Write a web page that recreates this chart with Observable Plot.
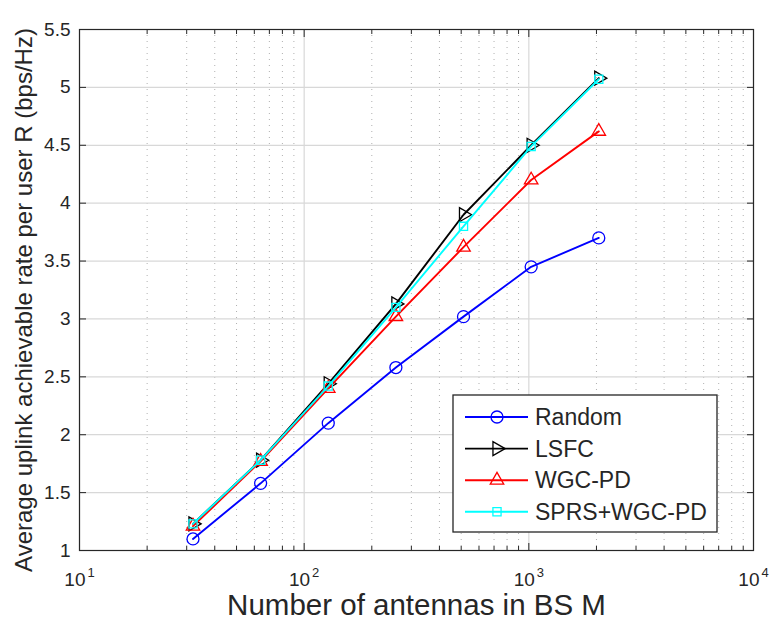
<!DOCTYPE html>
<html>
<head>
<meta charset="utf-8">
<script src="https://cdn.jsdelivr.net/npm/d3@7"></script>
<script src="https://cdn.jsdelivr.net/npm/@observablehq/plot@0.6"></script>
<style>
  html, body { margin: 0; padding: 0; background: #fff; }
  #chart { width: 771px; height: 631px; }
</style>
</head>
<body>
<div id="chart"></div>
<script>
// ---- data ----
const M = [32, 64, 128, 256, 512, 1024, 2048];
const seriesNames = ["Random", "LSFC", "WGC-PD", "SPRS+WGC-PD"];
const randomRate = [1.10, 1.58, 2.10, 2.58, 3.02, 3.45, 3.70];
const lsfcRate   = [1.23, 1.78, 2.44, 3.13, 3.90, 4.50, 5.08];
const wgcpdRate  = [1.21, 1.77, 2.40, 3.02, 3.62, 4.20, 4.62];
const sprsRate   = [1.23, 1.78, 2.42, 3.10, 3.80, 4.49, 5.07];
const seriesColors = ["#0000ff", "#000000", "#ff0000", "#00ffff"];
const xMajorTicks = [10, 100, 1000, 10000];
const xTickBase = "10";
const xTickExponents = ["1", "2", "3", "4"];
const xMinorTicks = [20,30,40,50,60,70,80,90,200,300,400,500,600,700,800,900,2000,3000,4000,5000,6000,7000,8000,9000];
const yTicks = [1, 1.5, 2, 2.5, 3, 3.5, 4, 4.5, 5, 5.5];
const xLabel = "Number of antennas in BS M";
const yLabel = "Average uplink achievable rate per user R (bps/Hz)";

const seriesValues = [randomRate, lsfcRate, wgcpdRate, sprsRate];

// right-pointing triangle symbol
const triangleRight = {
  draw(context, size) {
    const y = -Math.sqrt(size / (Math.sqrt(3) * 3));
    context.moveTo(-2 * y, 0);
    context.lineTo(y, -Math.sqrt(3) * y);
    context.lineTo(y, Math.sqrt(3) * y);
    context.closePath();
  }
};
const seriesSymbols = ["circle", triangleRight, "triangle", "square"];
const seriesR = [6, 5.2, 5, 4.6];

const tables = seriesNames.map((name, i) =>
  M.map((m, j) => ({M: m, rate: seriesValues[i][j], series: name}))
);

const font = "'Liberation Sans', Arial, Helvetica, sans-serif";
const axisColor = "#262626";

const marks = [
  // grid
  Plot.ruleX(xMinorTicks, {stroke: "#b0b0b0", strokeDasharray: "1,5"}),
  Plot.ruleX(xMajorTicks, {stroke: "#d8d8d8", strokeWidth: 1.2}),
  Plot.ruleY(yTicks, {stroke: "#d8d8d8", strokeWidth: 1.2}),
];

// series lines & markers
tables.forEach((t, i) => {
  marks.push(Plot.line(t, {x: "M", y: "rate", stroke: seriesColors[i], strokeWidth: 1.9}));
  marks.push(Plot.dot(t, {x: "M", y: "rate", stroke: seriesColors[i], fill: "none", symbol: seriesSymbols[i], r: seriesR[i], strokeWidth: 1.3}));
});

marks.push(
  // inward ticks (MATLAB style, box on)
  Plot.axisX(xMajorTicks, {anchor: "bottom", tickSize: 7, dy: -7, fill: "none", stroke: axisColor, label: null}),
  Plot.axisX(xMinorTicks, {anchor: "bottom", tickSize: 4, dy: -4, fill: "none", stroke: axisColor, label: null}),
  Plot.axisX(xMajorTicks, {anchor: "top", tickSize: 7, dy: 7, fill: "none", stroke: axisColor, label: null}),
  Plot.axisX(xMinorTicks, {anchor: "top", tickSize: 4, dy: 4, fill: "none", stroke: axisColor, label: null}),
  Plot.axisY(yTicks, {anchor: "left", tickSize: 7, dx: 7, fill: "none", stroke: axisColor, label: null}),
  Plot.axisY(yTicks, {anchor: "right", tickSize: 7, dx: -7, fill: "none", stroke: axisColor, label: null}),
  // tick labels
  Plot.axisX(xMajorTicks, {anchor: "bottom", tickSize: 0, tickPadding: 22, fontSize: 19, fill: axisColor,
    tickFormat: d => xTickBase + "^" + xTickExponents[xMajorTicks.indexOf(d)], label: null}),
  Plot.axisY(yTicks, {anchor: "left", tickSize: 0, tickPadding: 9, fontSize: 19, fill: axisColor,
    tickFormat: d => String(d), label: null}),
  Plot.frame({stroke: axisColor, strokeWidth: 1.2}),
  // axis titles
  Plot.text([xLabel], {frameAnchor: "bottom", dy: 64, fontSize: 29.5, fill: axisColor, textAnchor: "middle", text: d => d}),
  Plot.text([yLabel], {frameAnchor: "left", dx: -55, dy: 10, rotate: -90, fontSize: 24, fill: axisColor, textAnchor: "middle", text: d => d})
);

const chart = Plot.plot({
  width: 771,
  height: 631,
  marginLeft: 79,
  marginRight: 18,
  marginTop: 29,
  marginBottom: 81,
  style: {fontFamily: font, background: "#fff", color: axisColor, overflow: "visible"},
  x: {type: "log", domain: [10, 10000], axis: null},
  y: {domain: [1, 5.5], axis: null},
  marks
});

document.getElementById("chart").appendChild(chart);

// superscript exponents on x tick labels
const svg = d3.select(chart);
svg.selectAll('g[aria-label="x-axis tick label"] text').each(function() {
  const t = d3.select(this);
  const s = t.text();
  const parts = s.split("^");
  if (parts.length === 2) {
    t.text(parts[0]);
    t.append("tspan").attr("dy", "-9").attr("dx", "2").attr("font-size", 13).text(parts[1]);
  }
});

// legend (MATLAB style box inside the axes)
const lg = svg.append("g").attr("font-family", font).attr("font-size", 23).attr("fill", axisColor);
lg.append("rect").attr("x", 453).attr("y", 395).attr("width", 264).attr("height", 137)
  .attr("fill", "#fff").attr("stroke", axisColor).attr("stroke-width", 1.3);
const symMap = {circle: d3.symbolCircle, triangle: d3.symbolTriangle, square: d3.symbolSquare};
seriesNames.forEach((name, i) => {
  const yy = 417 + i * 31.6;
  lg.append("line").attr("x1", 465).attr("x2", 528).attr("y1", yy).attr("y2", yy)
    .attr("stroke", seriesColors[i]).attr("stroke-width", 1.9);
  const sym = typeof seriesSymbols[i] === "string" ? symMap[seriesSymbols[i]] : seriesSymbols[i];
  lg.append("path").attr("d", d3.symbol(sym, Math.PI * seriesR[i] * seriesR[i])())
    .attr("transform", `translate(497,${yy})`)
    .attr("fill", "none").attr("stroke", seriesColors[i]).attr("stroke-width", 1.3);
  lg.append("text").attr("x", 535).attr("y", yy).attr("dy", "0.35em")
    .attr("text-anchor", "start").text(name);
});
</script>
</body>
</html>
